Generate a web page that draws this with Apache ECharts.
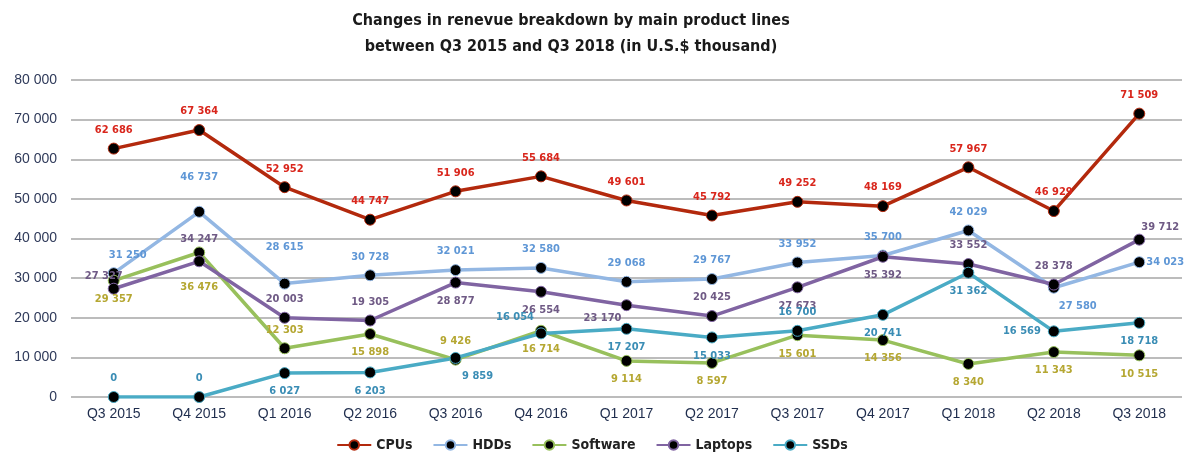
<!DOCTYPE html>
<html>
<head>
<meta charset="utf-8">
<script src="https://cdn.jsdelivr.net/npm/echarts@6/dist/echarts.min.js"></script>
<style>
  html, body { margin: 0; padding: 0; background: #fff; }
  #chart { width: 1184px; height: 458px; }
</style>
</head>
<body>
<div id="chart"></div>
<script>
// 数据
const quarters = ['Q3 2015', 'Q4 2015', 'Q1 2016', 'Q2 2016', 'Q3 2016', 'Q4 2016', 'Q1 2017',
  'Q2 2017', 'Q3 2017', 'Q4 2017', 'Q1 2018', 'Q2 2018', 'Q3 2018']
const cpus = [62686, 67364, 52952, 44747, 51906, 55684, 49601, 45792, 49252, 48169, 57967, 46929, 71509]
const hdds = [31250, 46737, 28615, 30728, 32021, 32580, 29068, 29767, 33952, 35700, 42029, 27580, 34023]
const software = [29357, 36476, 12303, 15898, 9426, 16714, 9114, 8597, 15601, 14356, 8340, 11343, 10515]
const laptops = [27327, 34247, 20003, 19305, 28877, 26554, 23170, 20425, 27673, 35392, 33552, 28378, 39712]
const ssds = [0, 0, 6027, 6203, 9859, 16054, 17207, 15033, 16700, 20741, 31362, 16569, 18718]
const yTicks = [0, 10000, 20000, 30000, 40000, 50000, 60000, 70000, 80000]

// 标签位置（样式）
const T = 'top', B = 'bottom', L = 'left', R = 'right'
const labelPos = {
  CPUs: [T, T, T, T, T, T, T, T, T, T, T, T, T],
  HDDs: [T, T, T, T, T, T, T, T, T, T, T, B, R],
  Software: [B, B, T, B, T, B, B, B, B, B, B, B, B],
  Laptops: [T, T, T, T, B, B, B, T, B, B, T, T, T],
  SSDs: [T, T, B, B, B, T, B, B, T, B, B, L, B],
}
// 个别标签的偏移 [dx, dy]
const labelShift = {
  'HDDs:0': [14, 0],
  'HDDs:1': [0, -16],
  'HDDs:2': [0, -18],
  'HDDs:11': [24, 0],
  'Laptops:0': [-10, 6],
  'Laptops:1': [0, -4],
  'Laptops:6': [-24, -6],
  'Laptops:12': [21, 6],
  'Software:1': [0, 16],
  'SSDs:4': [22, 0],
  'SSDs:5': [-26, 2],
}

const fontNarrow = 'DejaVu Sans Condensed, Liberation Sans Narrow, sans-serif'
const fmt = v => String(v).replace(/\B(?=(\d{3})+(?!\d))/g, ' ')

function makeSeries(name, values, lineColor, labelColor) {
  return {
    name: name,
    type: 'line',
    data: values.map((v, i) => ({
      value: v,
      label: {
        position: labelPos[name][i],
        offset: labelShift[name + ':' + i] || [0, 0],
        distance: name === 'HDDs' && i === 12 ? 1 : 7,
      },
    })),
    symbol: 'circle',
    symbolSize: 11,
    lineStyle: { color: lineColor, width: 3.5 },
    itemStyle: { color: '#000', borderColor: lineColor, borderWidth: 1 },
    label: {
      show: true,
      formatter: p => fmt(p.value),
      color: labelColor,
      fontSize: 11,
      fontWeight: 'bold',
      fontFamily: fontNarrow,
    },
    emphasis: { disabled: true },
  }
}

const chart = echarts.init(document.getElementById('chart'))
chart.setOption({
  animation: false,
  title: {
    text: 'Changes in renevue breakdown by main product lines\nbetween Q3 2015 and Q3 2018 (in U.S.$ thousand)',
    left: 566,
    textAlign: 'center',
    top: 3,
    textStyle: {
      fontSize: 16,
      fontWeight: 'bold',
      color: '#1a1a1a',
      lineHeight: 26,
      fontFamily: fontNarrow,
    },
  },
  legend: {
    bottom: 1,
    left: 'center',
    itemWidth: 34,
    itemHeight: 12,
    itemGap: 20,
    textStyle: {
      fontSize: 14,
      fontWeight: 'bold',
      color: '#222',
      fontFamily: fontNarrow,
    },
    data: ['CPUs', 'HDDs', 'Software', 'Laptops', 'SSDs'],
  },
  grid: { left: 71, right: 2, top: 80, bottom: 61 },
  xAxis: {
    type: 'category',
    data: quarters,
    axisLine: { show: false },
    axisTick: { show: false },
    axisLabel: { color: '#1f2d4d', fontSize: 14, margin: 10, fontFamily: 'Liberation Sans, Arial, sans-serif' },
  },
  yAxis: {
    type: 'value',
    min: yTicks[0],
    max: yTicks[yTicks.length - 1],
    interval: yTicks[1] - yTicks[0],
    axisLine: { show: false },
    axisTick: { show: false },
    axisLabel: { color: '#2f3a5a', fontSize: 14, margin: 14, formatter: fmt, fontFamily: 'Liberation Sans, Arial, sans-serif' },
    splitLine: { lineStyle: { color: '#a6a6a6', width: 1.5 } },
  },
  series: [
    makeSeries('CPUs', cpus, '#b3290d', '#d9261c'),
    makeSeries('HDDs', hdds, '#93b7e3', '#5f97d6'),
    makeSeries('Software', software, '#98c05c', '#b5a732'),
    makeSeries('Laptops', laptops, '#8064a2', '#6f5a85'),
    makeSeries('SSDs', ssds, '#4aabc5', '#3a8db5'),
  ],
})
</script>
</body>
</html>
